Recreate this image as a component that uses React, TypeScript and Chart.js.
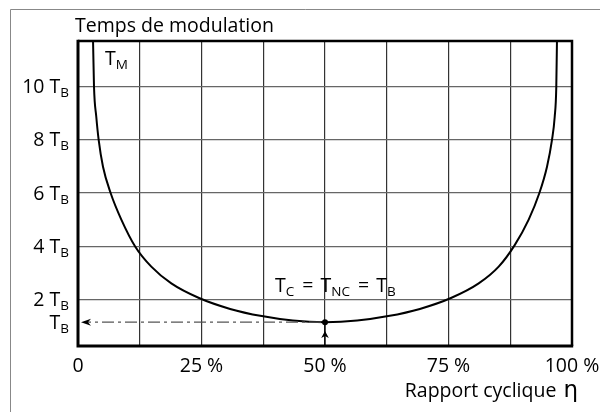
import React, { useEffect, useRef } from "react";
import { Chart, registerables } from "chart.js";

Chart.register(...registerables);

// Data (x: duty cycle in %, y: modulation time in units of T_B)
const dutyCycle = [3.0, 3.04, 3.24, 3.7, 4.19, 5.06, 6.62, 8.77, 11.6, 14.84, 18.89, 24.5, 30.8, 37.2, 43.5, 50.0, 56.5, 62.8, 69.2, 75.5, 81.11, 85.16, 88.4, 91.23, 93.38, 94.94, 95.95, 96.5, 96.82, 96.96, 97.0];
const modulationTime = [12.0, 11.76, 10.0, 8.87, 7.99, 6.99, 5.99, 5.0, 3.98, 3.23, 2.6, 2.05, 1.64, 1.37, 1.2, 1.14, 1.2, 1.37, 1.64, 2.05, 2.6, 3.23, 4.04, 5.0, 5.99, 6.99, 8.0, 8.87, 10.0, 11.76, 12.0];

const xTickValues = [0, 25, 50, 75, 100];
const xTickLabels = ["0", "25 %", "50 %", "75 %", "100 %"];
const yTickValues = [2, 4, 6, 8, 10];
const yTickLabels = ["2", "4", "6", "8", "10"];
const baseLevel = 1.14; // T_B level (minimum of the curve)
const baseDuty = 50;

const FONT = "'Open Sans', 'DejaVu Sans', sans-serif";
const MAIN = 19.5;
const SUB = 13.5;

type Seg = { t: string; sub?: boolean; gap?: number };

function segWidth(ctx: CanvasRenderingContext2D, segs: Seg[]) {
  let w = 0;
  for (const s of segs) {
    ctx.font = `${s.sub ? SUB : MAIN}px ${FONT}`;
    w += ctx.measureText(s.t).width + (s.gap || 0);
  }
  return w;
}

function drawSegs(ctx: CanvasRenderingContext2D, segs: Seg[], x: number, baseline: number, align: "left" | "right" | "center") {
  const w = segWidth(ctx, segs);
  let cx = align === "left" ? x : align === "right" ? x - w : x - w / 2;
  ctx.textAlign = "left";
  ctx.textBaseline = "alphabetic";
  ctx.fillStyle = "#000";
  for (const s of segs) {
    ctx.font = `${s.sub ? SUB : MAIN}px ${FONT}`;
    ctx.fillText(s.t, cx, s.sub ? baseline + 4 : baseline);
    cx += ctx.measureText(s.t).width + (s.gap || 0);
  }
}

const decorPlugin = {
  id: "decor",
  beforeDraw(chart: any) {
    const ctx = chart.ctx as CanvasRenderingContext2D;
    ctx.save();
    ctx.fillStyle = "#fff";
    ctx.fillRect(0, 0, chart.width, chart.height);
    ctx.strokeStyle = "#888";
    ctx.lineWidth = 1;
    ctx.beginPath();
    ctx.moveTo(10.5, chart.height);
    ctx.lineTo(10.5, 9.5);
    ctx.lineTo(chart.width, 9.5);
    ctx.stroke();
    ctx.restore();
  },
  afterDatasetsDraw(chart: any) {
    const ctx = chart.ctx as CanvasRenderingContext2D;
    const { left, right, top, bottom } = chart.chartArea;
    const xs = chart.scales.x;
    const ys = chart.scales.y;
    ctx.save();

    // frame
    ctx.strokeStyle = "#000";
    ctx.lineWidth = 2.5;
    ctx.beginPath();
    ctx.moveTo(left, top);
    ctx.lineTo(right, top);
    ctx.lineTo(right, bottom);
    ctx.stroke();
    ctx.lineWidth = 3;
    ctx.beginPath();
    ctx.moveTo(left, top - 1.2);
    ctx.lineTo(left, bottom);
    ctx.lineTo(right + 1.2, bottom);
    ctx.stroke();

    // reference point and arrows
    const px = xs.getPixelForValue(baseDuty);
    const py = ys.getPixelForValue(baseLevel);

    ctx.strokeStyle = "#555";
    ctx.lineWidth = 1.3;
    ctx.setLineDash([12, 4, 3, 4]);
    ctx.beginPath();
    ctx.moveTo(px - 4, py);
    ctx.lineTo(left + 6, py);
    ctx.stroke();
    ctx.setLineDash([]);

    ctx.fillStyle = "#000";
    // left arrow head
    ctx.beginPath();
    ctx.moveTo(left + 3, py);
    ctx.lineTo(left + 13, py - 3.5);
    ctx.lineTo(left + 10, py);
    ctx.lineTo(left + 13, py + 3.5);
    ctx.closePath();
    ctx.fill();

    // vertical arrow
    ctx.strokeStyle = "#000";
    ctx.lineWidth = 1.3;
    ctx.beginPath();
    ctx.moveTo(px, bottom);
    ctx.lineTo(px, py);
    ctx.stroke();
    ctx.beginPath();
    ctx.moveTo(px, bottom - 15);
    ctx.lineTo(px - 3.8, bottom - 8);
    ctx.lineTo(px, bottom - 10);
    ctx.lineTo(px + 3.8, bottom - 8);
    ctx.closePath();
    ctx.fill();

    ctx.beginPath();
    ctx.arc(px, py, 3, 0, Math.PI * 2);
    ctx.fill();

    // y labels
    yTickValues.forEach((v, i) => {
      const y = ys.getPixelForValue(v);
      drawSegs(ctx, [{ t: yTickLabels[i] + " T" }, { t: "B", sub: true }], 69, y + 6.5, "right");
    });
    drawSegs(ctx, [{ t: "T" }, { t: "B", sub: true }], 69, py + 6.5, "right");

    // x labels
    xTickValues.forEach((v, i) => {
      const x = xs.getPixelForValue(v);
      drawSegs(ctx, [{ t: xTickLabels[i] }], x, bottom + 26, "center");
    });

    // titles
    drawSegs(ctx, [{ t: "Temps de modulation" }], 75, 32, "left");
    ctx.font = `${MAIN}px ${FONT}`;
    const wR = ctx.measureText("Rapport cyclique ").width;
    ctx.font = `23px 'DejaVu Sans', sans-serif`;
    const wEta = ctx.measureText("η").width;
    const endX = 578;
    ctx.fillText("η", endX - wEta, 397);
    ctx.font = `${MAIN}px ${FONT}`;
    ctx.fillText("Rapport cyclique ", endX - wEta - wR - 2, 397);

    // curve label and annotation
    drawSegs(ctx, [{ t: "T" }, { t: "M", sub: true }], 105, 65, "left");
    drawSegs(
      ctx,
      [
        { t: "T" },
        { t: "C", sub: true, gap: 3 },
        { t: " = ", gap: 2 },
        { t: "T" },
        { t: "NC", sub: true, gap: 3 },
        { t: " = ", gap: 2 },
        { t: "T" },
        { t: "B", sub: true },
      ],
      275,
      292,
      "left"
    );

    ctx.restore();
  },
};

export default function App() {
  const ref = useRef<HTMLCanvasElement | null>(null);
  useEffect(() => {
    if (!ref.current) return;
    const chart = new Chart(ref.current, {
      type: "line",
      data: {
        datasets: [
          {
            data: dutyCycle.map((x, i) => ({ x, y: modulationTime[i] })),
            borderColor: "#000",
            borderWidth: 2,
            pointRadius: 0,
            cubicInterpolationMode: "monotone",
            fill: false,
          },
        ],
      },
      options: {
        animation: false,
        responsive: false,
        maintainAspectRatio: false,
        layout: { padding: { left: 78, right: 28, top: 41, bottom: 66 } },
        plugins: { legend: { display: false }, tooltip: { enabled: false } },
        scales: {
          x: {
            type: "linear",
            min: 0,
            max: 100,
            ticks: { display: false, stepSize: 12.5 },
            grid: { color: "#333", lineWidth: 1.2, drawTicks: false },
            border: { display: false },
          },
          y: {
            type: "linear",
            min: 0.245,
            max: 11.72,
            afterBuildTicks: (scale: any) => {
              scale.ticks = yTickValues.map((v) => ({ value: v }));
            },
            ticks: { display: false },
            grid: { color: "#666", lineWidth: 1.2, drawTicks: false },
            border: { display: false },
          },
        },
      },
      plugins: [decorPlugin],
    } as any);
    return () => chart.destroy();
  }, []);
  return (
    <div style={{ position: "absolute", left: 0, top: 0, width: 600, height: 412 }}>
      <canvas ref={ref} width={600} height={412} style={{ width: 600, height: 412 }} />
    </div>
  );
}
